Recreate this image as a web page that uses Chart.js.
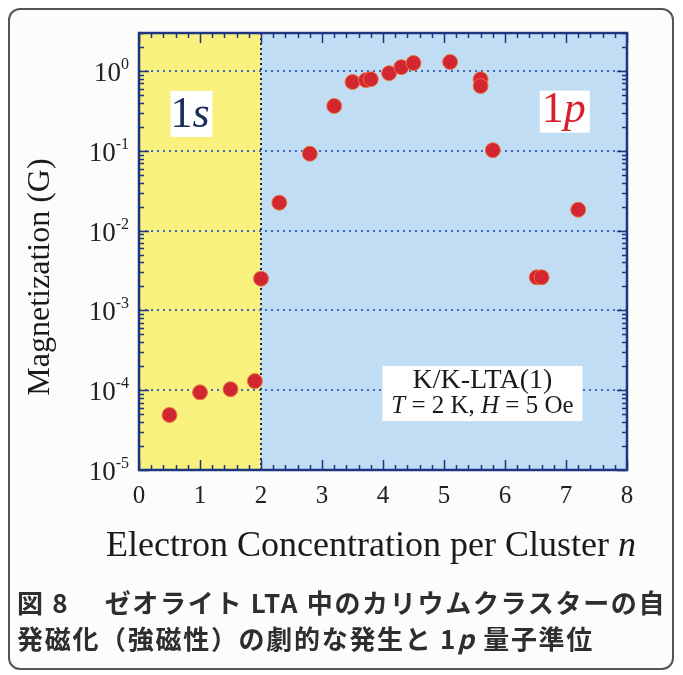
<!DOCTYPE html>
<html>
<head>
<meta charset="utf-8">
<script src="https://cdn.jsdelivr.net/npm/chart.js@4"></script>
<style>
  html, body { margin: 0; padding: 0; background: #ffffff; }
  #wrap { position: relative; width: 683px; height: 675px; overflow: hidden; }
  #frame {
    position: absolute; left: 8px; top: 8px; width: 666px; height: 662px;
    border: 2px solid #555; border-radius: 12px; box-sizing: border-box;
    background: #fcfcfa;
  }
  #chart { position: absolute; left: 0; top: 0; }
  #caption {
    position: absolute; left: 17px; top: 584px; width: 660px;
    font-family: "Noto Sans CJK JP", sans-serif; font-weight: 700;
    font-size: 26px; line-height: 36px; letter-spacing: 1.7px;
    color: #2e2e2e; white-space: nowrap;
  }
</style>
</head>
<body>
<div id="wrap">
  <div id="frame"></div>
  <canvas id="chart" width="683" height="675"></canvas>
  <div id="caption">図 8　 ゼオライト LTA 中のカリウムクラスターの自<br>発磁化（強磁性）の劇的な発生と 1<i>p</i> 量子準位</div>
</div>
<script>
// electron count per cluster n and magnetization (G)
const nValues = [0.5, 1.0, 1.5, 1.9, 2.0, 2.3, 2.8, 3.2, 3.5, 3.72, 3.8, 4.1, 4.3, 4.5, 5.1, 5.6, 5.6, 5.8, 6.52, 6.6, 7.2];
const magnetization = [4.9e-5, 9.4e-5, 1.03e-4, 1.3e-4, 2.5e-3, 0.0224, 0.092, 0.365, 0.73, 0.77, 0.79, 0.94, 1.12, 1.26, 1.3, 0.79, 0.65, 0.102, 0.0026, 0.0026, 0.0183];
const xTicks = [0, 1, 2, 3, 4, 5, 6, 7, 8];
const yDecades = [-5, -4, -3, -2, -1, 0];
const shellEdge = 2; // boundary between 1s and 1p filling

const serif = "'Liberation Serif', 'Times New Roman', serif";

const decor = {
  id: "decor",
  beforeDraw(chart) {
    const { ctx, chartArea: a, scales: { x } } = chart;
    const xe = x.getPixelForValue(shellEdge);
    ctx.save();
    ctx.fillStyle = "#f9f17e";
    ctx.fillRect(a.left, a.top, xe - a.left, a.bottom - a.top);
    ctx.fillStyle = "#c0ddf3";
    ctx.fillRect(xe, a.top, a.right - xe, a.bottom - a.top);
    ctx.restore();
  },
  afterDatasetsDraw(chart) {
    const { ctx, scales: { x, y } } = chart;
    ctx.save();
    ctx.textBaseline = "middle";
    // 1s label
    let cx = x.getPixelForValue(0.86), cy = y.getPixelForValue(0.29);
    ctx.fillStyle = "#ffffff";
    ctx.fillRect(cx - 21, cy - 23, 42, 46);
    ctx.fillStyle = "#1c2c5c";
    ctx.font = "44px " + serif;
    ctx.textAlign = "right";
    ctx.fillText("1", cx + 1, cy + 1);
    ctx.font = "italic 44px " + serif;
    ctx.textAlign = "left";
    ctx.fillText("s", cx + 1, cy + 1);
    // 1p label
    cx = x.getPixelForValue(6.98); cy = y.getPixelForValue(0.31);
    ctx.fillStyle = "#ffffff";
    ctx.fillRect(cx - 25, cy - 21, 50, 42);
    ctx.fillStyle = "#d8202c";
    ctx.font = "44px " + serif;
    ctx.textAlign = "right";
    ctx.fillText("1", cx - 1, cy - 1);
    ctx.font = "italic 44px " + serif;
    ctx.textAlign = "left";
    ctx.fillText("p", cx - 1, cy - 1);
    // sample box
    cx = x.getPixelForValue(5.63); cy = y.getPixelForValue(9.2e-5);
    ctx.fillStyle = "#ffffff";
    ctx.fillRect(cx - 100, cy - 27, 200, 55);
    ctx.fillStyle = "#1a1a1a";
    ctx.textAlign = "center";
    ctx.font = "28px " + serif;
    ctx.fillText("K/K-LTA(1)", cx, cy - 12);
    const parts = [["T", true], [" = 2 K, ", false], ["H", true], [" = 5 Oe", false]];
    const f = it => (it ? "italic " : "") + "25px " + serif;
    let w = 0;
    parts.forEach(p => { ctx.font = f(p[1]); w += ctx.measureText(p[0]).width; });
    let px = cx - w / 2;
    ctx.textAlign = "left";
    parts.forEach(p => {
      ctx.font = f(p[1]);
      ctx.fillText(p[0], px, cy + 13);
      px += ctx.measureText(p[0]).width;
    });
    ctx.restore();
  },
  afterDraw(chart) {
    const { ctx, chartArea: a, scales: { x, y } } = chart;
    ctx.save();
    ctx.strokeStyle = "#1f3582";
    ctx.lineWidth = 1.5;
    ctx.beginPath();
    // x ticks, inward, bottom and top
    for (let i = 0; i <= 40; i++) {
      const px = Math.round(x.getPixelForValue(i / 5)) + 0.5;
      const len = i % 5 === 0 ? 10 : 5;
      ctx.moveTo(px, a.bottom); ctx.lineTo(px, a.bottom - len);
      ctx.moveTo(px, a.top); ctx.lineTo(px, a.top + len);
    }
    // y ticks, log spaced, left and right
    yDecades.forEach(d => {
      for (let m = 1; m <= 9; m++) {
        const v = m * Math.pow(10, d);
        if (v > y.max) break;
        const py = Math.round(y.getPixelForValue(v)) + 0.5;
        const len = m === 1 ? 10 : 5;
        ctx.moveTo(a.left, py); ctx.lineTo(a.left + len, py);
        ctx.moveTo(a.right, py); ctx.lineTo(a.right - len, py);
      }
    });
    ctx.stroke();
    ctx.lineWidth = 2.5;
    ctx.strokeRect(a.left, a.top, a.right - a.left, a.bottom - a.top);

    // y tick labels as 10 with raised exponent
    ctx.fillStyle = "#222";
    ctx.textBaseline = "alphabetic";
    yDecades.forEach(d => {
      const py = y.getPixelForValue(Math.pow(10, d));
      ctx.font = "16px " + serif;
      ctx.textAlign = "left";
      const exp = d === 0 ? "0" : "-" + Math.abs(d);
      const ew = ctx.measureText(exp).width;
      const right = a.left - 10;
      ctx.fillText(exp, right - ew, py - 2);
      ctx.font = "27px " + serif;
      ctx.textAlign = "right";
      ctx.fillText("10", right - ew, py + 10);
    });

    // axis titles
    ctx.fillStyle = "#1a1a1a";
    const t1 = "Electron Concentration per Cluster ";
    ctx.font = "36px " + serif;
    const w1 = ctx.measureText(t1).width;
    ctx.font = "italic 36px " + serif;
    const w2 = ctx.measureText("n").width;
    const sx = 371 - (w1 + w2) / 2;
    ctx.textAlign = "left";
    ctx.font = "36px " + serif;
    ctx.fillText(t1, sx, 556);
    ctx.font = "italic 36px " + serif;
    ctx.fillText("n", sx + w1, 556);

    ctx.translate(49, 277);
    ctx.rotate(-Math.PI / 2);
    ctx.textAlign = "center";
    ctx.font = "32px " + serif;
    ctx.fillText("Magnetization (G)", 0, 0);
    ctx.restore();
  }
};

const ctx = document.getElementById("chart").getContext("2d");

new Chart(ctx, {
  type: "scatter",
  data: {
    datasets: [{
      label: "Magnetization",
      data: nValues.map((n, i) => ({ x: n, y: magnetization[i] })),
      backgroundColor: "#d22630",
      borderColor: "rgba(235, 120, 60, 0.9)",
      borderWidth: 1,
      pointRadius: 7.5,
      pointHoverRadius: 7.5
    }]
  },
  options: {
    responsive: false,
    animation: false,
    events: [],
    layout: { padding: { left: 0, right: 56, top: 33, bottom: 0 } },
    plugins: { legend: { display: false }, tooltip: { enabled: false } },
    scales: {
      x: {
        type: "linear",
        min: 0,
        max: 8,
        afterBuildTicks(scale) {
          scale.ticks = xTicks.map(v => ({ value: v }));
        },
        afterFit(scale) { scale.height = 205; },
        border: { display: false, dash: [2, 3] },
        grid: {
          drawTicks: false,
          lineWidth: 2,
          color: c => (c.tick && c.tick.value === shellEdge ? "#1b2a66" : "rgba(0,0,0,0)")
        },
        ticks: {
          autoSkip: false,
          maxRotation: 0,
          padding: 11,
          color: "#222",
          font: { family: serif, size: 25 },
          callback: v => String(v)
        }
      },
      y: {
        type: "logarithmic",
        min: 1e-5,
        max: 3,
        afterBuildTicks(scale) {
          scale.ticks = yDecades.map(d => ({ value: Math.pow(10, d) }));
        },
        afterFit(scale) { scale.width = 139; },
        border: { display: false, dash: [2, 4] },
        grid: {
          drawTicks: false,
          lineWidth: 2,
          color: c => (c.tick && c.tick.value > 2e-5 ? "#4168c4" : "rgba(0,0,0,0)")
        },
        ticks: { display: false }
      }
    }
  },
  plugins: [decor]
});
</script>
</body>
</html>
